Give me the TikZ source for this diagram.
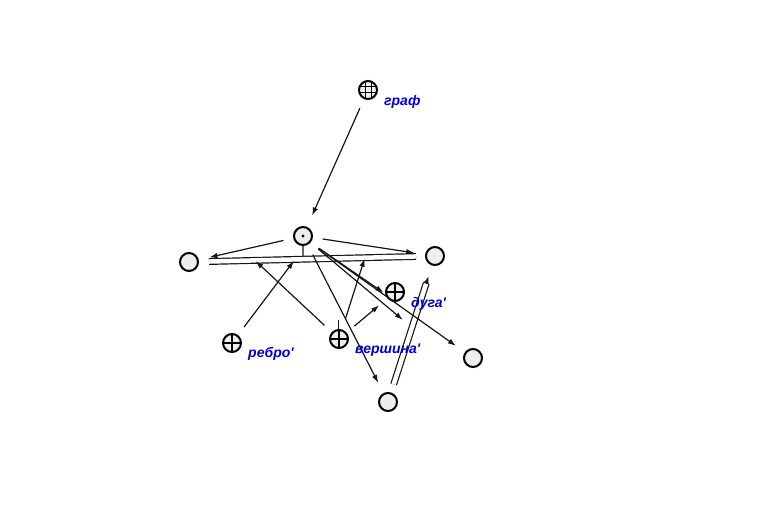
\documentclass[tikz,border=0pt]{standalone}
\usepackage{fontspec}
\usepackage{tikz}
\usetikzlibrary{arrows.meta, positioning, calc}
\newfontfamily\lblfont[Ligatures=TeXOff]{Liberation Sans}
\definecolor{LabelBlue}{HTML}{0000C8}
\definecolor{NodeFill}{HTML}{EEEEEE}
\definecolor{LineDark}{HTML}{161616}

\begin{document}
\begin{tikzpicture}[
        x=1pt, y=-1pt,
        vn/.style={circle, draw=black, fill=NodeFill, line width=2pt, minimum size=18pt, inner sep=0pt},
        pn/.style={vn, path picture={
            \draw[black, line width=1.2pt] (path picture bounding box.north) -- (path picture bounding box.south);
            \draw[black, line width=1.2pt] (path picture bounding box.west) -- (path picture bounding box.east);}},
        gridn/.style={vn, path picture={
            \foreach \f in {-3,3} {
              \draw[black, line width=1pt] ([xshift=\f pt]path picture bounding box.north) -- ([xshift=\f pt]path picture bounding box.south);
              \draw[black, line width=1pt] ([yshift=\f pt]path picture bounding box.west) -- ([yshift=\f pt]path picture bounding box.east);
            }}},
        dotn/.style={vn, path picture={\fill[black] (path picture bounding box.center) circle (1.6pt);}},
        lbl/.style={inner sep=0pt, text=LabelBlue, font=\lblfont\bfseries\itshape\fontsize{14}{16}\selectfont},
        arrow/.style={-{Latex[length=8pt, width=5.5pt]}, line width=1.2pt, LineDark},
        link/.style={line width=1.2pt, LineDark}
      ]
        \useasboundingbox (0,0) rectangle (759,521);

        % Nodes
        \node[gridn] (graf) at (368,90) {};
        \node[dotn] (center) at (303,236) {};
        \node[vn] (left) at (189,262) {};
        \node[vn] (right) at (435,256) {};
        \node[pn] (duga) at (395,292) {};
        \node[pn] (rebro) at (232,343) {};
        \node[pn] (vershina) at (339,339) {};
        \node[vn] (bright) at (473,358) {};
        \node[vn] (bottom) at (388,402) {};

        % Points on the double links
        \coordinate (d1) at ($(left)!0.268!(right)$);
        \coordinate (d2) at ($(left)!0.431!(right)$);
        \coordinate (stem) at ($(left)!0.463!(right)$);
        \coordinate (d3) at ($(left)!0.715!(right)$);
        \coordinate (m) at ($(bottom)!0.51!(right)$);

        % Edges
        \draw[link] (center.south) -- (stem);
        \draw[link, double=white, double distance=4.5pt, shorten <=10pt, shorten >=9pt] (left) -- (right);
        \draw[arrow, double=white, double distance=4.5pt, shorten <=8.5pt, shorten >=11pt] (bottom) -- (right);
        \draw[link] (vershina.95) -- ++(0,-9);

        \draw[arrow, shorten <=10pt, shorten >=12.5pt] (graf) -- (center);
        \draw[arrow, shorten <=10pt, shorten >=11pt] (center) -- (left);
        \draw[arrow, shorten <=10pt, shorten >=11pt] (center) -- (right);
        \draw[arrow, shorten <=10pt, shorten >=2pt] (center.-41) -- (duga.190);
        \draw[arrow, shorten <=10pt, shorten >=12pt] (center.-41) -- (m);
        \draw[arrow, shorten <=10pt, shorten >=11pt] (center.-41) -- (bright);
        \draw[arrow, shorten <=11pt, shorten >=11.5pt] (center.-62) -- (bottom);
        \draw[arrow, shorten <=10pt, shorten >=2pt] (rebro) -- (d2);
        \draw[arrow, shorten <=10pt, shorten >=1pt] (vershina) -- (d1);
        \draw[arrow, shorten <=12pt, shorten >=1pt] (vershina) -- (d3);
        \draw[arrow, shorten <=10pt, shorten >=10.7pt] (vershina) -- (duga);

        % Labels
        \node[lbl, right=6pt of graf, yshift=-12pt] (graflbl) {граф};
        \node[lbl, right=6pt of duga, yshift=-12pt] (dugalbl) {дуга'};
        \node[lbl, right=6pt of rebro, yshift=-11pt] (rebrolbl) {ребро'};
        \node[lbl, right=6pt of vershina, yshift=-11pt] (vershinalbl) {вершина'};
      \end{tikzpicture}
\end{document}
